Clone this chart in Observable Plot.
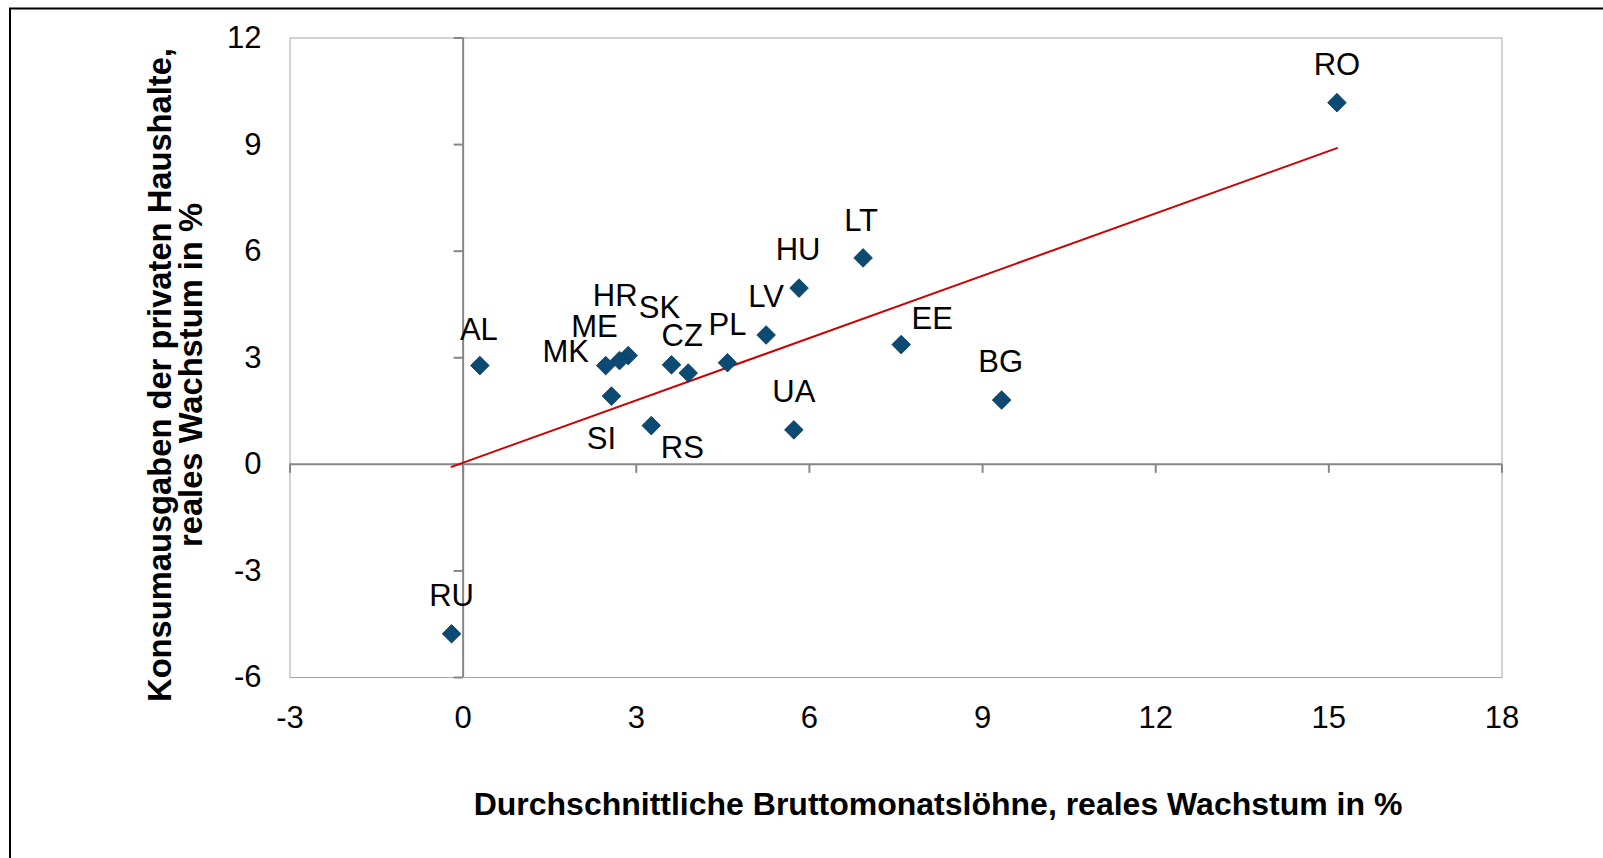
<!DOCTYPE html>
<html><head><meta charset="utf-8">
<script src="https://cdn.jsdelivr.net/npm/d3@7"></script>
<script src="https://cdn.jsdelivr.net/npm/@observablehq/plot@0.6"></script>
<style>html,body{margin:0;padding:0;background:#fff;overflow:hidden} #chart svg{display:block}</style>
</head><body><div id="chart"></div>
<script>
// ---- data ----
const countries = ["RO","LT","HU","LV","EE","BG","UA","PL","CZ","SK","HR","ME","MK","SI","RS","AL","RU"];
const wageGrowth = [15.14,6.93,5.82,5.25,7.59,9.33,5.73,4.58,3.90,3.61,2.86,2.71,2.47,2.57,3.26,0.29,-0.20];
const consumptionGrowth = [10.18,5.81,4.96,3.64,3.37,1.81,0.97,2.86,2.57,2.80,3.06,2.92,2.78,1.92,1.09,2.78,-4.77];
const trendX = [-0.20, 15.14];
const trendY = [-0.07, 8.90];
const xTicks = [-3,0,3,6,9,12,15,18];
const yTicks = [-6,-3,0,3,6,9,12];
const xTitle = "Durchschnittliche Bruttomonatslöhne, reales Wachstum in %";
const yTitleLines = ["Konsumausgaben der privaten Haushalte,", "reales Wachstum in %"];

// ---- label placement (style, pixel offsets from each point) ----
const labelOffset = {RO:[0,-28], LT:[-2,-27], HU:[-1,-28], LV:[0,-28], EE:[31,-16], BG:[-1,-28],
  UA:[0,-28], PL:[0,-28], CZ:[-6,-27], SK:[-12,-47], HR:[-13,-50], ME:[-25,-24], MK:[-40,-4],
  SI:[-10,53], RS:[31,32], AL:[-1,-26], RU:[0,-28]};

const idx = countries.map((_, i) => i);
const trend = trendX.map((x, i) => ({x, y: trendY[i]}));
const font = "'Liberation Sans', Arial, sans-serif";
const axisGray = "#868686";

const svg = Plot.plot({
  width: 1603, height: 858,
  marginLeft: 289.5, marginRight: 101.5, marginTop: 37.5, marginBottom: 181,
  x: {domain: [-3, 18]},
  y: {domain: [-6, 12]},
  style: {fontFamily: font, background: "white", color: "black", overflow: "visible"},
  marks: [
    Plot.frame({stroke: "#a6a6a6", strokeWidth: 1}),
    Plot.ruleY([0], {stroke: axisGray, strokeWidth: 2}),
    Plot.ruleX([0], {stroke: axisGray, strokeWidth: 2}),
    Plot.ruleX(xTicks, {x: d => d, y1: 0, y2: 0, insetTop: 0, insetBottom: -9, stroke: axisGray, strokeWidth: 2}),
    Plot.ruleY(yTicks, {y: d => d, x1: 0, x2: 0, insetLeft: -9, insetRight: 0, stroke: axisGray, strokeWidth: 2}),
    Plot.axisX(xTicks, {anchor: "bottom", tickSize: 0, tickPadding: 28, fontSize: 31, fill: "black", tickFormat: d => String(d), label: null}),
    Plot.axisY(yTicks, {anchor: "left", tickSize: 0, tickPadding: 28.5, fontSize: 31, fill: "black", tickFormat: d => String(d), label: null}),
    Plot.line(trend, {x: "x", y: "y", stroke: "#cc0000", strokeWidth: 2}),
    Plot.dot(idx, {x: i => wageGrowth[i], y: i => consumptionGrowth[i], symbol: "diamond2", r: 8.4,
      fill: "#0b4a72", stroke: "#06385a", strokeWidth: 0.8}),
    ...countries.map((c, i) => Plot.text([i], {
      x: j => wageGrowth[j], y: j => consumptionGrowth[j], text: j => countries[j],
      dx: labelOffset[c][0], dy: labelOffset[c][1], lineAnchor: "bottom", textAnchor: "middle",
      fontSize: 31, fill: "black"
    }))
  ]
});

document.getElementById("chart").appendChild(svg);
const s = d3.select(svg);
// outer chart-area border (top and left edges visible)
s.append("rect").attr("x", 10).attr("y", 8.5).attr("width", 3000).attr("height", 3000)
  .attr("fill", "none").attr("stroke", "#000").attr("stroke-width", 2);
// x-axis title
s.append("text").attr("x", 938).attr("y", 815).attr("text-anchor", "middle")
  .attr("font-family", font).attr("font-weight", "bold").attr("font-size", 32).attr("fill", "black")
  .text(xTitle);
// y-axis title (two lines)
yTitleLines.forEach((t, k) => {
  s.append("text").attr("transform", `translate(${170.5 + k * 31},375) rotate(-90)`)
    .attr("text-anchor", "middle").attr("font-family", font).attr("font-weight", "bold")
    .attr("font-size", 32.7).attr("fill", "black").text(t);
});
</script>
</body></html>
